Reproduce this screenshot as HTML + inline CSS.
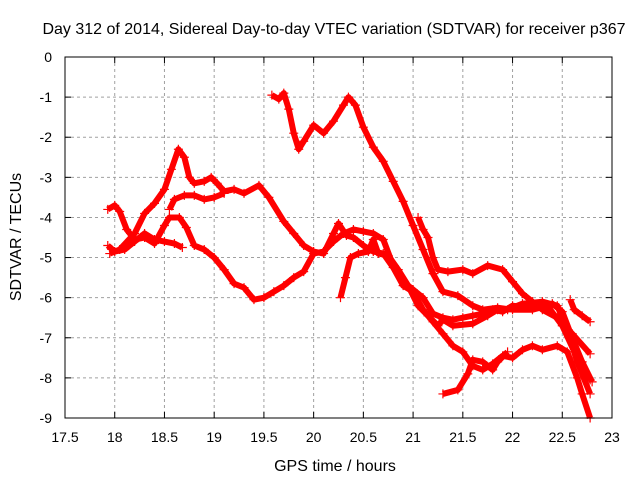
<!DOCTYPE html>
<html><head><meta charset="utf-8"><style>
body{margin:0;background:#fff}
svg text{font-family:"Liberation Sans",sans-serif;font-size:14px;fill:#000}
svg text.big{font-size:16px}
</style></head><body>
<svg id="chart" width="640" height="480" xmlns="http://www.w3.org/2000/svg">
<text class="big" x="334" y="34" text-anchor="middle">Day 312 of 2014, Sidereal Day-to-day VTEC variation (SDTVAR) for receiver p367</text>
<g id="grid"></g><g id="series"></g>
<rect x="65" y="57" width="547" height="361" fill="none" stroke="#000" stroke-width="1"/>
<g id="ticks"></g>
<text class="big" x="335" y="471" text-anchor="middle">GPS time / hours</text>
<text class="big" transform="translate(21,237) rotate(-90)" text-anchor="middle">SDTVAR / TECUs</text>
</svg>
<script>
const xTicks=[17.5,18,18.5,19,19.5,20,20.5,21,21.5,22,22.5,23];
const yTicks=[0,-1,-2,-3,-4,-5,-6,-7,-8,-9];
const t1x=[17.93,18.0,18.1,18.2,18.3,18.4,18.5,18.6,18.68];
const t1y=[-4.7,-4.85,-4.8,-4.6,-4.4,-4.55,-4.6,-4.65,-4.75];
const t2x=[17.93,18.0,18.05,18.12,18.2,18.3,18.4,18.5,18.55,18.65,18.72,18.8,18.9,19.0,19.1,19.2,19.3,19.4,19.5,19.6,19.7,19.8,19.9,20.0,20.1,20.2,20.3,20.4,20.5,20.6,20.7,20.8,20.9,21.0,21.1,21.2,21.3,21.4,21.5,21.6,21.7,21.8,21.9,22.0,22.2,22.4,22.5,22.6,22.7,22.8];
const t2y=[-3.8,-3.7,-3.85,-4.3,-4.55,-4.5,-4.65,-4.2,-4.0,-4.0,-4.25,-4.7,-4.8,-5.0,-5.3,-5.65,-5.75,-6.05,-6.0,-5.85,-5.7,-5.5,-5.35,-4.9,-4.85,-4.6,-4.4,-4.3,-4.35,-4.4,-4.55,-5.2,-5.6,-5.8,-6.0,-6.4,-6.5,-6.55,-6.5,-6.45,-6.4,-6.3,-6.35,-6.2,-6.25,-6.15,-6.35,-7.0,-7.6,-8.1];
const t3x=[17.95,18.05,18.2,18.3,18.4,18.5,18.57,18.64,18.7,18.75,18.8,18.9,18.97,19.03,19.1,19.2,19.3,19.45,19.55,19.7,19.8,19.9,20.0,20.1,20.2,20.25,20.33,20.4,20.5,20.6,20.7,20.8,20.9,21.0,21.1,21.2,21.3,21.4,21.5,21.6,21.7,21.8,21.9,22.0,22.1,22.2,22.3,22.45,22.55,22.65,22.7,22.78];
const t3y=[-4.9,-4.8,-4.4,-3.9,-3.65,-3.3,-2.8,-2.3,-2.5,-3.0,-3.15,-3.1,-3.0,-3.15,-3.35,-3.3,-3.4,-3.2,-3.5,-4.1,-4.4,-4.7,-4.85,-4.9,-4.4,-4.15,-4.45,-4.5,-4.7,-4.85,-4.9,-5.25,-5.7,-5.85,-6.3,-6.6,-6.9,-7.2,-7.35,-7.7,-7.8,-7.65,-7.45,-7.5,-7.3,-7.2,-7.3,-7.2,-7.35,-8.0,-8.4,-9.0];
const t4x=[18.55,18.6,18.7,18.8,18.9,19.0,19.1];
const t4y=[-3.8,-3.55,-3.45,-3.45,-3.55,-3.5,-3.4];
const t5x=[19.58,19.65,19.7,19.75,19.8,19.85,19.9,20.0,20.1,20.2,20.3,20.35,20.42,20.5,20.6,20.7,20.8,20.9,21.0,21.1,21.2,21.3,21.45,21.6,21.7,21.85,22.0,22.2,22.35,22.5,22.65,22.78];
const t5y=[-0.95,-1.05,-0.9,-1.3,-1.9,-2.3,-2.1,-1.7,-1.9,-1.6,-1.2,-1.0,-1.2,-1.75,-2.25,-2.6,-3.1,-3.6,-4.2,-4.8,-5.4,-5.85,-5.95,-6.2,-6.3,-6.25,-6.3,-6.3,-6.2,-6.7,-7.5,-8.05];
const t6x=[22.58,22.62,22.7,22.78];
const t6y=[-6.05,-6.3,-6.45,-6.6];
const t7x=[21.05,21.1,21.15,21.2,21.25,21.35,21.5,21.6,21.75,21.9,22.0,22.1,22.2,22.3,22.45,22.6,22.78];
const t7y=[-4.0,-4.3,-4.5,-5.0,-5.3,-5.35,-5.3,-5.4,-5.2,-5.3,-5.6,-5.9,-6.1,-6.3,-6.5,-6.9,-7.4];
const t8x=[20.27,20.32,20.37,20.45,20.55,20.6,20.65,20.75,20.85,20.95,21.05,21.15,21.25,21.3,21.4,21.6,21.75,21.85,21.95,22.1,22.3,22.45,22.55,22.65,22.78];
const t8y=[-6.0,-5.5,-5.0,-4.9,-4.85,-4.55,-4.9,-4.95,-5.3,-5.7,-6.2,-6.45,-6.7,-6.55,-6.7,-6.65,-6.45,-6.3,-6.3,-6.15,-6.1,-6.2,-6.8,-7.6,-8.4];
const t9x=[21.3,21.45,21.55,21.6,21.7,21.8,21.85,21.95];
const t9y=[-8.4,-8.3,-7.9,-7.55,-7.6,-7.8,-7.6,-7.35];
const NS="http://www.w3.org/2000/svg";
const X=v=>65+(v-17.5)*547/5.5, Y=v=>57-v*361/9;
const grid=document.getElementById('grid'),ticks=document.getElementById('ticks'),ser=document.getElementById('series');
function mk(t,a,p){const e=document.createElementNS(NS,t);for(const k in a)e.setAttribute(k,a[k]);p.appendChild(e);return e;}
xTicks.forEach((v,i)=>{const x=X(v);
 if(i>0&&i<xTicks.length-1){const g=mk('line',{x1:x,x2:x,y1:57,y2:418,stroke:'#a0a0a0','stroke-dasharray':'3,3'},grid);
 
 }
 mk('line',{x1:x,x2:x,y1:418,y2:412,stroke:'#000'},ticks);mk('line',{x1:x,x2:x,y1:57,y2:63,stroke:'#000'},ticks);
 const t=mk('text',{x:x,y:442,'text-anchor':'middle'},ticks);t.textContent=String(v);
 
 });
yTicks.forEach((v,i)=>{const y=Y(v);
 if(i>0&&i<yTicks.length-1){const g=mk('line',{x1:65,x2:612,y1:y,y2:y,stroke:'#a0a0a0','stroke-dasharray':'3,3'},grid);
 
 }
 mk('line',{x1:65,x2:71,y1:y,y2:y,stroke:'#000'},ticks);mk('line',{x1:612,x2:606,y1:y,y2:y,stroke:'#000'},ticks);
 const t=mk('text',{x:52,y:y+5,'text-anchor':'end'},ticks);t.textContent=String(v);
 
 });
const tracks=[[t1x,t1y],[t2x,t2y],[t3x,t3y],[t4x,t4y],[t5x,t5y],[t6x,t6y],[t7x,t7y],[t8x,t8y],[t9x,t9y]];
tracks.forEach((tr,k)=>{const [xs,ys]=tr;
 const g=mk('g',{},ser);
 
 
 mk('polyline',{points:xs.map((x,i)=>X(x)+','+Y(ys[i])).join(' '),fill:'none',stroke:'#f00','stroke-width':6,'stroke-linejoin':'round'},g);
 let d='';xs.forEach((x,i)=>{const px=X(x),py=Y(ys[i]);d+=`M${px-4.5},${py}h9M${px},${py-4.5}v9`;});
 mk('path',{d:d,stroke:'#f00','stroke-width':1.2},g);});
</script>
</body></html>
